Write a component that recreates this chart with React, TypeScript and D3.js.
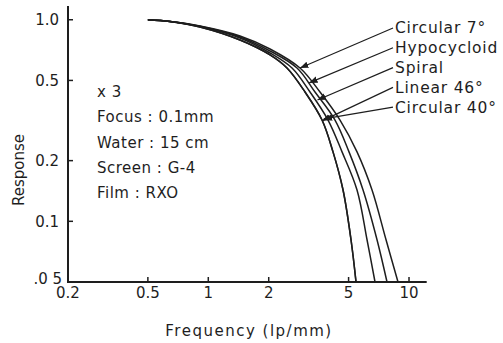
import React from 'react';
import * as d3 from 'd3';

// response curves: [frequency lp/mm, response]
const circular7 = [[0.5, 1.0], [0.645, 0.98], [0.909, 0.931], [1.439, 0.831], [2.03, 0.716], [2.864, 0.576], [3.602, 0.438], [4.532, 0.318], [5.508, 0.221], [6.543, 0.143], [7.683, 0.081], [8.815, 0.05]];
const hypocycloid = [[0.5, 1.0], [0.645, 0.98], [0.909, 0.928], [1.439, 0.821], [2.03, 0.7], [2.767, 0.576], [3.401, 0.438], [4.279, 0.318], [5.024, 0.221], [5.902, 0.143], [6.928, 0.081], [7.77, 0.05]];
const spiral = [[0.5, 1.0], [0.645, 0.98], [0.909, 0.925], [1.439, 0.812], [2.03, 0.684], [2.613, 0.576], [3.212, 0.438], [3.95, 0.318], [4.638, 0.221], [5.508, 0.143], [6.178, 0.081], [6.771, 0.05]];
const linear46 = [[0.5, 1.0], [0.645, 0.98], [0.909, 0.92], [1.439, 0.793], [2.03, 0.669], [2.467, 0.576], [3.033, 0.438], [3.687, 0.318], [4.182, 0.221], [4.692, 0.143], [5.141, 0.081], [5.445, 0.05]];
const circular40 = [[0.5, 1.0], [0.645, 0.98], [0.909, 0.92], [1.439, 0.793], [2.03, 0.669], [2.467, 0.576], [3.033, 0.438], [3.687, 0.318], [4.182, 0.221], [4.692, 0.143], [5.141, 0.081], [5.445, 0.05]];

const seriesNames = ['Circular 7°', 'Hypocycloid', 'Spiral', 'Linear 46°', 'Circular 40°'];
const seriesData = [circular7, hypocycloid, spiral, linear46, circular40];
// where each label's arrow touches its curve
const arrowTargets = [[2.864, 0.576], [3.18, 0.486], [3.5, 0.4], [3.69, 0.315], [3.76, 0.322]];

const xTicks = [0.2, 0.5, 1, 2, 5, 10];
const xTickLabels = ['0.2', '0.5', '1', '2', '5', '10'];
const yTicks = [1.0, 0.5, 0.2, 0.1, 0.05];
const yTickLabels = ['1.0', '0.5', '0.2', '0.1', '.0 5'];
const notes = ['x 3', 'Focus : 0.1mm', 'Water : 15 cm', 'Screen : G-4', 'Film : RXO'];

const W = 503;
const H = 343;
const ink = '#1e1e1e';
const font = '"DejaVu Sans", sans-serif';

const App = () => {
  const x = d3.scaleLog().domain([0.2, 12.25]).range([68, 426.7]);
  const y = d3.scaleLog().domain([0.05, 1.17]).range([282, 6]);

  const line = d3.line<number[]>()
    .x(d => x(d[0]))
    .y(d => y(d[1]))
    .curve(d3.curveCatmullRom.alpha(0.5));

  const [x0, x1] = x.range();
  const [y0, y1] = y.range();

  return (
    <svg width={W} height={H} style={{ position: 'absolute', left: 0, top: 0, background: '#fff' }}>
      <defs>
        <marker id="arr" viewBox="0 0 10 10" refX="10" refY="5" markerWidth="7" markerHeight="7" orient="auto">
          <path d="M0,1 L10,5 L0,9 z" fill={ink} />
        </marker>
      </defs>

      {/* axes */}
      <path d={`M${x0},${y1} L${x0},${y0} L${x1},${y0}`} fill="none" stroke={ink} strokeWidth={2} />
      {yTicks.map((t, i) => (
        <g key={'y' + i}>
          {i < yTicks.length - 1 && <line x1={x0} x2={x0 + 5} y1={y(t)} y2={y(t)} stroke={ink} strokeWidth={1.5} />}
          <text x={i === yTicks.length - 1 ? x0 - 6 : x0 - 9} y={y(t)} dy={i === yTicks.length - 1 ? '0.1em' : '0.35em'} textAnchor="end" fontSize={15} fontFamily={font} fill={ink}>{yTickLabels[i]}</text>
        </g>
      ))}
      {xTicks.map((t, i) => (
        <g key={'x' + i}>
          {i > 0 && <line x1={x(t)} x2={x(t)} y1={y0} y2={y0 - 5} stroke={ink} strokeWidth={1.5} />}
          <text x={x(t)} y={y0 + 16} textAnchor="middle" fontSize={15} fontFamily={font} fill={ink}>{xTickLabels[i]}</text>
        </g>
      ))}
      <text x={249} y={336} textAnchor="middle" fontSize={15} fontFamily={font} fill={ink} letterSpacing={1.5}>Frequency (lp/mm)</text>
      <text transform="translate(24,170) rotate(-90)" textAnchor="middle" fontSize={15} fontFamily={font} fill={ink}>Response</text>

      {/* curves */}
      {seriesData.map((s, i) => (
        <path key={'c' + i} d={line(s) || ''} fill="none" stroke={ink} strokeWidth={1.5} />
      ))}

      {/* labels with arrows */}
      {seriesNames.map((n, i) => {
        const ly = 28 + i * 19.8;
        const t = arrowTargets[i];
        return (
          <g key={'l' + i}>
            <line x1={393} y1={ly} x2={x(t[0])} y2={y(t[1])} stroke={ink} strokeWidth={1.2} markerEnd="url(#arr)" />
            <text x={395} y={ly} dy="0.35em" fontSize={15.5} fontFamily={font} fill={ink} letterSpacing={0.8}>{n}</text>
          </g>
        );
      })}

      {/* exposure notes */}
      {notes.map((n, i) => (
        <text key={'n' + i} x={97} y={92 + i * 25.2} dy="0.35em" fontSize={15} fontFamily={font} fill={ink} letterSpacing={0.5}>{n}</text>
      ))}
    </svg>
  );
};

export default App;
